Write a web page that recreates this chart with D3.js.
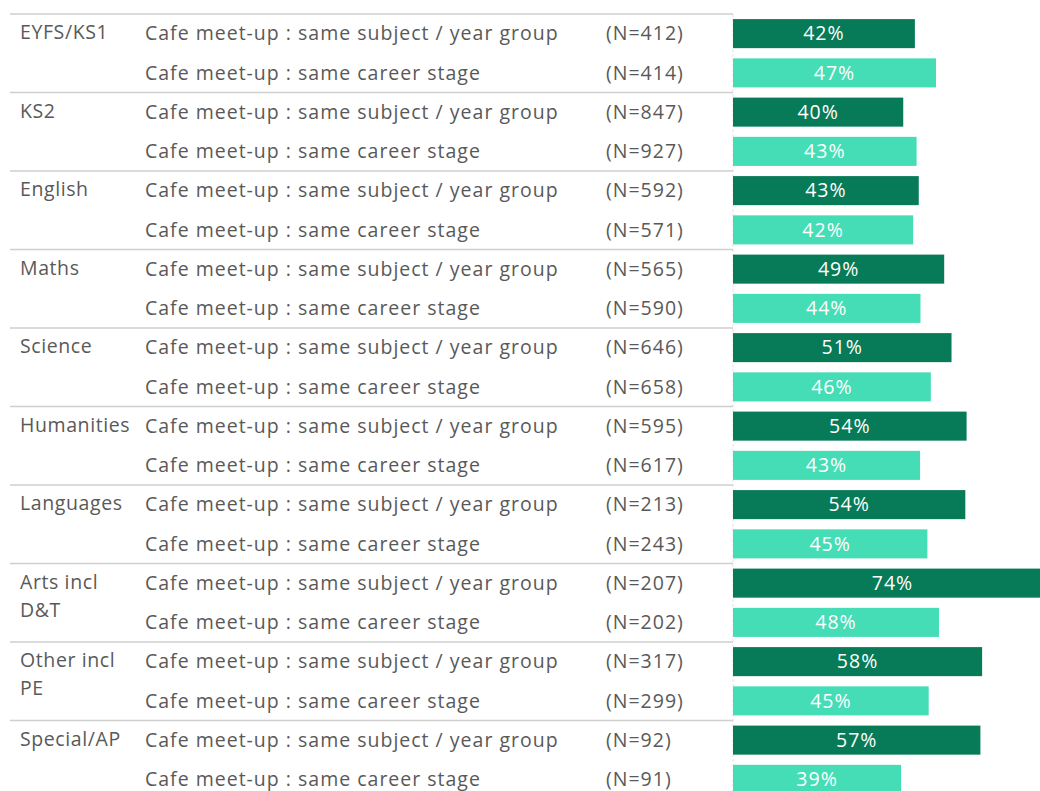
<!DOCTYPE html>
<html>
<head>
<meta charset="utf-8">
<script src="https://cdn.jsdelivr.net/npm/d3@7"></script>
<style>
  body { margin: 0; background: #fff; }
  svg text { font-family: "Open Sans", "Noto Sans", sans-serif; letter-spacing: 1px; }
</style>
</head>
<body>
<svg id="chart"></svg>
<script>
// Chart data
const groups = ["EYFS/KS1", "KS2", "English", "Maths", "Science", "Humanities", "Languages", "Arts incl D&T", "Other incl PE", "Special/AP"];
const groupLines = [["EYFS/KS1"], ["KS2"], ["English"], ["Maths"], ["Science"], ["Humanities"], ["Languages"], ["Arts incl", "D&T"], ["Other incl", "PE"], ["Special/AP"]];
const items = ["Cafe meet-up : same subject / year group", "Cafe meet-up : same career stage"];
const subjectN = [412, 847, 592, 565, 646, 595, 213, 207, 317, 92];
const careerN = [414, 927, 571, 590, 658, 617, 243, 202, 299, 91];
// percentages (labels show rounded value)
const subjectPct = [42.2, 39.5, 43.1, 49.0, 50.7, 54.2, 53.9, 74, 57.8, 57.4];
const careerPct = [47.1, 42.6, 41.8, 43.5, 45.9, 43.4, 45.1, 47.8, 45.4, 39.0];

const width = 1040, height = 791;
const topY = 14, rowH = 39.25;
const barX = 733;

// build rows
const rows = [];
groups.forEach((g, gi) => {
  rows.push({ group: gi, item: 0, n: subjectN[gi], pct: subjectPct[gi] });
  rows.push({ group: gi, item: 1, n: careerN[gi], pct: careerPct[gi] });
});

const svg = d3.select("#chart")
  .attr("width", width)
  .attr("height", height);

const y = d3.scaleBand()
  .domain(d3.range(rows.length))
  .range([topY, topY + rowH * rows.length])
  .paddingInner(0.26)
  .paddingOuter(0.13);

const x = d3.scaleLinear().domain([0, 100]).range([barX, barX + 431]);

const color = ["#077a57", "#45ddb6"];
const textColor = "#595959";
const fs = 19.5;

// vertical dashed line at bar base
svg.append("line")
  .attr("x1", barX).attr("x2", barX)
  .attr("y1", topY).attr("y2", height)
  .attr("stroke", "#e2e2e2").attr("stroke-width", 1)
  .attr("stroke-dasharray", "3,2");

// group separators
svg.selectAll(".sep")
  .data(groups)
  .join("line")
  .attr("class", "sep")
  .attr("x1", 10).attr("x2", barX)
  .attr("y1", (d, i) => topY + i * rowH * 2)
  .attr("y2", (d, i) => topY + i * rowH * 2)
  .attr("stroke", "#cfcfcf").attr("stroke-width", 1.5);

// bars
svg.selectAll(".bar")
  .data(rows)
  .join("rect")
  .attr("class", "bar")
  .attr("x", x(0))
  .attr("y", (d, i) => y(i))
  .attr("width", d => x(d.pct) - x(0))
  .attr("height", y.bandwidth())
  .attr("fill", d => color[d.item]);

// value labels
svg.selectAll(".val")
  .data(rows)
  .join("text")
  .attr("class", "val")
  .attr("x", d => (x(0) + x(d.pct)) / 2)
  .attr("y", (d, i) => y(i) + y.bandwidth() / 2)
  .attr("dy", "0.35em")
  .attr("text-anchor", "middle")
  .attr("fill", "#fff")
  .attr("font-size", fs)
  .text(d => Math.round(d.pct) + "%");

// item labels
svg.selectAll(".item")
  .data(rows)
  .join("text")
  .attr("class", "item")
  .attr("x", 145)
  .attr("y", (d, i) => y(i) + y.bandwidth() / 2)
  .attr("dy", "0.35em")
  .attr("fill", textColor)
  .attr("font-size", fs)
  .text(d => items[d.item]);

// N labels
svg.selectAll(".n")
  .data(rows)
  .join("text")
  .attr("class", "n")
  .attr("x", 606)
  .attr("y", (d, i) => y(i) + y.bandwidth() / 2)
  .attr("dy", "0.35em")
  .attr("fill", textColor)
  .attr("font-size", fs)
  .text(d => "(N=" + d.n + ")");

// group labels
const gl = svg.selectAll(".group")
  .data(groupLines)
  .join("text")
  .attr("class", "group")
  .attr("x", 20)
  .attr("y", (d, i) => y(i * 2) + y.bandwidth() / 2 - 1)
  .attr("fill", textColor)
  .attr("font-size", fs)
  .style("letter-spacing", "0.6px");

gl.selectAll("tspan")
  .data(d => d)
  .join("tspan")
  .attr("x", 20)
  .attr("dy", (d, i) => i === 0 ? "0.35em" : 28)
  .text(d => d);
</script>
</body>
</html>
